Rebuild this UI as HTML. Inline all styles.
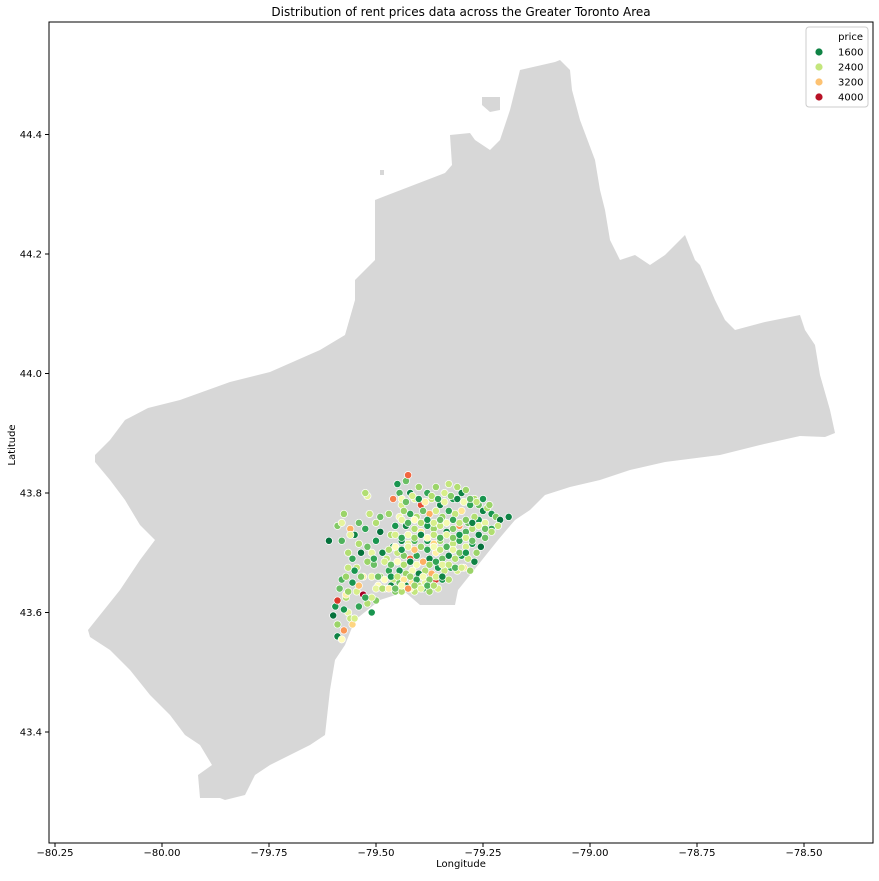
<!DOCTYPE html>
<html><head><meta charset="utf-8">
<style>
body{margin:0;background:#fff;}
svg text{font-family:"DejaVu Sans","Liberation Sans",sans-serif;fill:#000;}
</style></head>
<body>
<svg id="chart" width="879" height="876" xmlns="http://www.w3.org/2000/svg">
<text x="461" y="16" text-anchor="middle" font-size="12">Distribution of rent prices data across the Greater Toronto Area</text>
<polygon fill="#d7d7d7" points="95,455 110,440 125,420 148,408 180,400 230,382 270,372 320,350 345,335 355,300 355,280 375,260 375,200 445,173 452,165 450,135 470,133 475,140 490,150 500,140 510,110 520,70 555,62 560,60 570,70 572,90 580,120 595,160 600,190 605,210 610,240 620,260 635,255 650,265 665,255 685,235 695,260 700,265 715,300 725,320 735,330 765,322 800,315 805,330 815,345 820,375 830,410 835,433 825,437 800,436 760,445 720,455 665,462 630,470 600,480 570,487 545,495 530,510 515,520 498,540 470,575 458,590 455,605 420,605 405,592 380,600 355,620 345,645 335,660 330,690 325,735 310,745 290,755 270,765 255,775 245,795 225,800 220,798 200,798 198,775 212,765 200,745 185,735 170,715 150,695 130,670 110,650 90,637 88,630 100,615 120,590 140,560 155,540 140,525 125,500 110,480 95,462"/>
<polygon fill="#d7d7d7" points="482,97 500,97 500,110 490,112 482,105"/>
<rect x="380" y="170" width="4" height="5" fill="#d7d7d7"/>
<g id="points"></g>
<rect x="49" y="22" width="824" height="821" fill="none" stroke="#000" stroke-width="1"/>
<g id="xticks"></g>
<g id="yticks"></g>
<text x="461" y="867" text-anchor="middle" font-size="10">Longitude</text>
<text transform="translate(15,445) rotate(-90)" text-anchor="middle" font-size="10">Latitude</text>
<g>
<rect x="806" y="27" width="62" height="80" rx="3" fill="#fff" fill-opacity="0.85" stroke="#ccc"/>
<text x="863" y="40" text-anchor="end" font-size="10">price</text>
<g id="legend-entries"></g>
</g>
</svg>
<script>
const lons=[-79.59,-79.58,-79.575,-79.59,-79.60,-79.595,-79.59,-79.585,-79.57,-79.565,-79.56,-79.555,-79.58,-79.57,-79.555,-79.545,-79.54,-79.53,-79.52,-79.51,-79.50,-79.53,-79.545,-79.555,-79.565,-79.58,-79.59,-79.58,-79.575,-79.56,-79.55,-79.54,-79.525,-79.515,-79.52,-79.525,-79.61,-79.535,-79.52,-79.505,-79.51,-79.50,-79.49,-79.50,-79.49,-79.485,-79.49,-79.48,-79.495,-79.47,-79.475,-79.46,-79.465,-79.455,-79.47,-79.46,-79.445,-79.45,-79.44,-79.43,-79.425,-79.42,-79.41,-79.40,-79.395,-79.38,-79.37,-79.36,-79.35,-79.34,-79.33,-79.32,-79.31,-79.30,-79.29,-79.28,-79.27,-79.26,-79.25,-79.24,-79.23,-79.22,-79.21,-79.19,-79.215,-79.23,-79.245,-79.26,-79.27,-79.285,-79.30,-79.315,-79.33,-79.345,-79.36,-79.375,-79.39,-79.405,-79.42,-79.435,-79.445,-79.43,-79.41,-79.395,-79.38,-79.365,-79.35,-79.335,-79.32,-79.305,-79.29,-79.275,-79.26,-79.245,-79.255,-79.265,-79.275,-79.29,-79.305,-79.32,-79.335,-79.35,-79.365,-79.38,-79.395,-79.41,-79.425,-79.44,-79.45,-79.435,-79.42,-79.405,-79.39,-79.375,-79.36,-79.345,-79.33,-79.315,-79.30,-79.285,-79.27,-79.28,-79.295,-79.31,-79.325,-79.34,-79.355,-79.37,-79.385,-79.40,-79.415,-79.43,-79.445,-79.46,-79.445,-79.43,-79.415,-79.40,-79.385,-79.37,-79.36,-79.345,-79.33,-79.355,-79.375,-79.39,-79.41,-79.42,-79.455,-79.465,-79.44,
-79.44,-79.43,-79.415,-79.40,-79.385,-79.37,-79.355,-79.34,-79.325,-79.31,-79.295,-79.28,-79.265,-79.25,-79.235,
-79.44,-79.425,-79.41,-79.395,-79.38,-79.365,-79.35,-79.335,-79.32,-79.305,-79.29,-79.275,-79.26,-79.245,-79.23,
-79.455,-79.44,-79.425,-79.41,-79.395,-79.38,-79.365,-79.35,-79.335,-79.32,-79.305,-79.29,-79.275,
-79.47,-79.455,-79.44,-79.425,-79.41,-79.395,-79.38,-79.365,-79.35,-79.335,-79.32,-79.305,-79.29,
-79.48,-79.465,-79.45,-79.435,-79.42,-79.405,-79.39,-79.375,-79.36,-79.345,-79.33,-79.315,-79.30,
-79.51,-79.495,-79.48,-79.465,-79.45,-79.435,-79.42,-79.405,-79.39,-79.375,-79.36,-79.345,
-79.50,-79.485,-79.47,-79.455,-79.44,-79.425,-79.41,-79.395,-79.38,-79.365,
-79.51,-79.525,-79.54,-79.535,-79.55,-79.565,-79.52,-79.505,-79.54,-79.56,-79.57,-79.575,-79.55,-79.565];
const lats=[43.56,43.555,43.57,43.58,43.595,43.61,43.62,43.64,43.625,43.60,43.59,43.58,43.655,43.66,43.65,43.635,43.61,43.63,43.615,43.60,43.62,43.66,43.675,43.69,43.70,43.72,43.745,43.75,43.765,43.74,43.73,43.75,43.74,43.765,43.795,43.80,43.72,43.70,43.685,43.68,43.70,43.72,43.735,43.75,43.76,43.70,43.66,43.64,43.645,43.67,43.69,43.71,43.73,43.745,43.765,43.79,43.80,43.815,43.78,43.82,43.83,43.80,43.79,43.81,43.78,43.80,43.79,43.81,43.78,43.80,43.815,43.79,43.81,43.80,43.805,43.78,43.79,43.78,43.77,43.775,43.765,43.76,43.755,43.76,43.745,43.74,43.75,43.755,43.76,43.75,43.77,43.765,43.77,43.76,43.77,43.765,43.77,43.76,43.765,43.77,43.76,43.745,43.74,43.735,43.745,43.74,43.745,43.735,43.74,43.745,43.735,43.74,43.73,43.725,43.71,43.70,43.715,43.71,43.72,43.715,43.71,43.72,43.715,43.72,43.71,43.72,43.715,43.72,43.70,43.695,43.69,43.695,43.685,43.69,43.70,43.69,43.695,43.69,43.695,43.69,43.685,43.67,43.675,43.67,43.675,43.67,43.675,43.665,43.67,43.665,43.67,43.665,43.67,43.655,43.65,43.645,43.65,43.645,43.65,43.645,43.655,43.655,43.655,43.64,43.635,43.64,43.635,43.64,43.635,43.645,43.635,
43.79,43.785,43.795,43.79,43.785,43.795,43.79,43.785,43.795,43.79,43.785,43.79,43.785,43.79,43.78,
43.755,43.75,43.755,43.75,43.755,43.75,43.755,43.75,43.755,43.75,43.755,43.75,43.745,43.74,43.735,
43.73,43.725,43.73,43.725,43.73,43.725,43.73,43.725,43.73,43.725,43.73,43.725,43.72,
43.705,43.71,43.705,43.71,43.705,43.71,43.705,43.71,43.705,43.71,43.705,43.70,43.70,
43.685,43.68,43.685,43.68,43.685,43.68,43.685,43.68,43.685,43.68,43.68,43.675,43.675,
43.66,43.66,43.655,43.66,43.66,43.655,43.66,43.655,43.66,43.655,43.66,43.66,
43.64,43.64,43.64,43.64,43.645,43.64,43.645,43.64,43.645,43.645,
43.625,43.625,43.645,43.66,43.67,43.675,43.71,43.69,43.715,43.73,43.63,43.605,43.59,43.635];
const prices=[1600,2800,3400,2200,1500,1700,3800,2000,2300,2600,2400,3100,1900,2200,1700,2500,1800,4200,2300,1700,2100,2900,2400,1800,2300,1900,2100,2600,2200,3300,1600,2000,1800,2400,2600,2300,1500,1500,2200,2000,2600,1700,1500,2300,2000,1600,2200,2500,2800,1800,2400,1600,2300,1700,2200,3500,1900,1700,2500,2000,3600,1600,2600,2200,3700,1800,2400,2200,1600,2500,2400,1700,2300,1600,2200,1800,2300,2000,1600,2300,1700,2100,1500,1600,2400,1800,2600,1700,2300,2000,3000,2400,1800,2200,2500,3300,2000,2300,1800,2200,2700,1600,2300,3000,1700,2200,2400,1600,2100,3400,1900,2300,1600,2000,1500,2200,1700,2500,1800,2400,1600,2200,3100,1700,2300,1900,2600,1600,2400,2100,3600,1800,2200,1600,2900,2000,1600,2300,1700,2400,1600,2200,3000,2500,1800,2400,1700,3300,2300,1600,2700,2200,1700,2400,2000,1600,3000,2400,2600,2100,3800,1700,2300,2500,2200,1900,2400,2800,2100,1600,2300,
2700,2000,2500,1700,2900,2300,1800,2600,2100,1600,2700,2000,2400,1700,2200,
2600,1900,2800,2300,1700,2500,2000,2700,1800,2400,2100,1600,2600,2000,2300,
2500,1800,2700,2200,1600,2800,2400,1900,2600,2100,1700,2500,2000,
2300,2800,1700,2600,3200,2200,1800,2700,2400,1900,2600,2100,1700,
2500,2000,2800,2300,1600,2700,3300,2200,1800,2600,2400,1900,2500,
2600,2000,2800,1700,2400,3000,2200,1800,2700,2100,2500,1600,
2600,2300,2900,2000,2700,3400,2200,2600,1900,2300,
2500,1800,3200,2100,1700,2400,2000,1800,2300,2600,2900,1700,2500,2200];
const legendValues=[1600,2400,3200,4000];
const xTickVals=[-80.25,-80.00,-79.75,-79.50,-79.25,-79.00,-78.75,-78.50];
const xTickLabels=["\u221280.25","\u221280.00","\u221279.75","\u221279.50","\u221279.25","\u221279.00","\u221278.75","\u221278.50"];
const yTickVals=[43.4,43.6,43.8,44.0,44.2,44.4];
const yTickLabels=["43.4","43.6","43.8","44.0","44.2","44.4"];

const NS="http://www.w3.org/2000/svg";
function xs(lon){return 55+(lon+80.25)*428;}
function ys(lat){return 493-(lat-43.8)*597.5;}
const stops=["#006837","#1a9850","#66bd63","#a6d96a","#d9ef8b","#ffffbf","#fee08b","#fdae61","#f46d43","#d73027","#a50026"];
function hex(h){return [1,3,5].map(i=>parseInt(h.substr(i,2),16));}
function color(p){let t=(Number(p)-1450)/2650;if(!isFinite(t))t=0.4;t=Math.max(0,Math.min(1,t));const f=t*10,i=Math.min(9,Math.floor(f)),u=f-i;const a=hex(stops[i]),b=hex(stops[i+1]);return "rgb("+a.map((v,k)=>Math.round(v+(b[k]-v)*u)).join(",")+")";}
const g=document.getElementById("points");
const n=Math.min(lons.length,lats.length,prices.length);
for(let i=0;i<n;i++){
  const c=document.createElementNS(NS,"circle");
  c.setAttribute("cx",xs(lons[i]));c.setAttribute("cy",ys(lats[i]));c.setAttribute("r",3.6);
  c.setAttribute("fill",color(prices[i]));c.setAttribute("stroke","#fff");c.setAttribute("stroke-width","0.7");
  
  
  g.appendChild(c);
}
const xt=document.getElementById("xticks");
xTickVals.forEach((v,i)=>{
  const x=xs(v);
  const l=document.createElementNS(NS,"line");
  l.setAttribute("x1",x);l.setAttribute("x2",x);l.setAttribute("y1",843);l.setAttribute("y2",847);l.setAttribute("stroke","#000");
  
  
  xt.appendChild(l);
  const t=document.createElementNS(NS,"text");
  t.setAttribute("x",x);t.setAttribute("y",856);t.setAttribute("text-anchor","middle");t.setAttribute("font-size","10");
  t.textContent=xTickLabels[i];
  
  
  xt.appendChild(t);
});
const yt=document.getElementById("yticks");
yTickVals.forEach((v,i)=>{
  const y=ys(v);
  const l=document.createElementNS(NS,"line");
  l.setAttribute("x1",45);l.setAttribute("x2",49);l.setAttribute("y1",y);l.setAttribute("y2",y);l.setAttribute("stroke","#000");
  
  
  yt.appendChild(l);
  const t=document.createElementNS(NS,"text");
  t.setAttribute("x",42);t.setAttribute("y",y+3.5);t.setAttribute("text-anchor","end");t.setAttribute("font-size","10");
  t.textContent=yTickLabels[i];
  
  
  yt.appendChild(t);
});
const le=document.getElementById("legend-entries");
legendValues.forEach((v,i)=>{
  const y=52+i*15;
  const c=document.createElementNS(NS,"circle");
  c.setAttribute("cx",819);c.setAttribute("cy",y);c.setAttribute("r",4);c.setAttribute("fill",color(v));c.setAttribute("stroke","#fff");c.setAttribute("stroke-width","0.8");
  
  
  le.appendChild(c);
  const t=document.createElementNS(NS,"text");
  t.setAttribute("x",838);t.setAttribute("y",y+3.5);t.setAttribute("font-size","10");t.textContent=v;
  
  
  le.appendChild(t);
});
</script>
</body></html>
